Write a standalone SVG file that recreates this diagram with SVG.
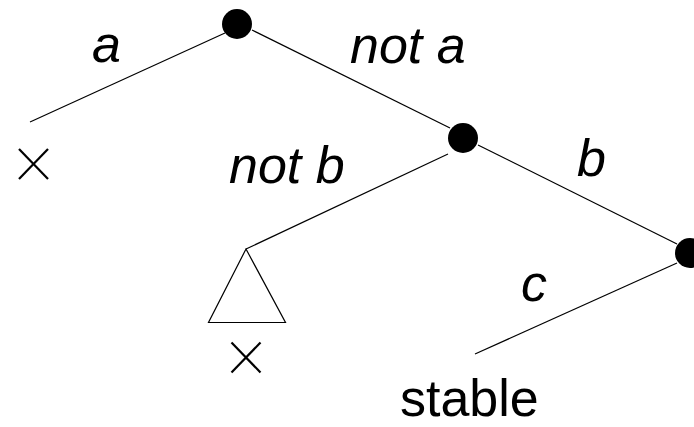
<svg xmlns="http://www.w3.org/2000/svg" width="694" height="427" viewBox="0 0 694 427">
<style>
.e{stroke:#000;stroke-width:1.2;fill:none}
.n{fill:#000}
.x{stroke:#000;stroke-width:2.2;fill:none}
.t{font-family:"Liberation Sans",Arial,sans-serif;font-size:52px;fill:#000}
.i{font-style:italic}
</style>
<defs>
<g id="cross"><line x1="-14.5" y1="-15" x2="14.5" y2="15"/><line x1="-14.5" y1="15" x2="14.5" y2="-15"/></g>
</defs>
<rect width="694" height="427" fill="#fff"/>
<g id="connectors">
<line class="e" x1="225" y1="33" x2="30" y2="122"/>
<line class="e" x1="252" y1="30" x2="450" y2="128"/>
<line class="e" x1="448" y1="154" x2="246" y2="249"/>
<line class="e" x1="478" y1="145" x2="677" y2="244"/>
<line class="e" x1="677" y1="263" x2="475" y2="354"/>
</g>
<g id="node1"><circle class="n" cx="237" cy="24" r="15"/></g>
<g id="node2"><circle class="n" cx="463" cy="138" r="15"/></g>
<g id="node3"><circle class="n" cx="690" cy="253" r="15"/></g>
<g id="leaf1" class="x"><use href="#cross" x="33.5" y="164"/></g>
<g id="subtree"><polygon class="e" points="246,249 208.5,322.5 285.5,322.5"/></g>
<g id="leaf2" class="x"><use href="#cross" x="246" y="357.5"/></g>
<g id="leaf3"><text class="t" x="400" y="416">stable</text></g>
<g id="labels">
<text class="t i" x="92" y="62">a</text>
<text class="t i" x="350" y="63">not a</text>
<text class="t i" x="229" y="183">not b</text>
<text class="t i" x="577" y="176">b</text>
<text class="t i" x="521" y="301">c</text>
</g>
</svg>
